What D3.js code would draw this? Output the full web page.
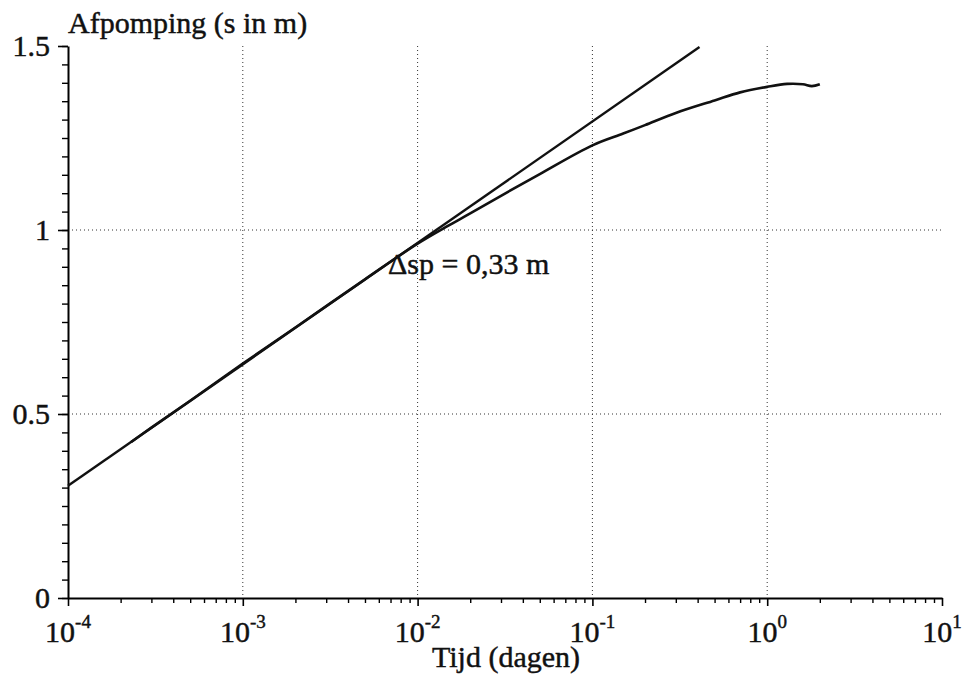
<!DOCTYPE html>
<html>
<head>
<meta charset="utf-8">
<script src="https://cdn.jsdelivr.net/npm/d3@7"></script>
<style>
  body { margin: 0; background: #fff; }
  text { font-family: "Liberation Serif", "Times New Roman", serif; fill: #111; stroke: #111; stroke-width: 0.45px; }
</style>
</head>
<body>
<div id="chart"></div>
<script>
// measured drawdown (time in days, drawdown in m)
const timeDays = [2.3e-4, 3e-4, 5e-4, 1e-3, 2e-3, 5e-3, 1e-2, 1.5e-2, 2e-2, 3e-2, 5e-2,
                  0.1, 0.15, 0.2, 0.3, 0.5, 0.7, 1.0, 1.3, 1.6, 1.8, 2.0];
const drawdown = [0.424, 0.463, 0.536, 0.637, 0.735, 0.866, 0.963, 1.012, 1.045, 1.093, 1.152,
                  1.230, 1.262, 1.285, 1.318, 1.352, 1.374, 1.389, 1.397, 1.396, 1.391, 1.396];

// fitted straight line (Jacob)
const fitTime = [1e-4, 0.41];
const fitDrawdown = [0.305, 1.497];

const xDecades = [-4, -3, -2, -1, 0, 1];
const yTicks = [0, 0.5, 1, 1.5];
const yTickLabels = ["0", "0.5", "1", "1.5"];
const annotation = "\u0394sp = 0,33 m";

const width = 962, height = 675;
const marginLeft = 68, plotRight = 942, plotTop = 46, plotBottom = 598;

const svg = d3.select("#chart").append("svg")
  .attr("width", width).attr("height", height);

const x = d3.scaleLog().domain([1e-4, 10]).range([marginLeft, plotRight]);
const y = d3.scaleLinear().domain([0, 1.5]).range([plotBottom, plotTop]);

// gridlines
const grid = svg.append("g")
  .attr("stroke", "#333").attr("stroke-width", 1).attr("stroke-dasharray", "1,3");
grid.selectAll("line.v")
  .data(xDecades.slice(1, -1))
  .join("line")
  .attr("x1", d => x(Math.pow(10, d))).attr("x2", d => x(Math.pow(10, d)))
  .attr("y1", plotTop).attr("y2", plotBottom);
grid.selectAll("line.h")
  .data([0.5, 1])
  .join("line")
  .attr("x1", marginLeft).attr("x2", plotRight)
  .attr("y1", d => y(d)).attr("y2", d => y(d));

// minor ticks
const minorX = [];
xDecades.slice(0, -1).forEach(e => {
  for (let k = 2; k <= 9; k++) minorX.push(k * Math.pow(10, e));
});
const minorY = d3.range(0, 31).map(i => i * 0.05);

svg.append("g")
  .attr("transform", `translate(0,${plotBottom})`)
  .call(d3.axisBottom(x).tickValues(minorX).tickSize(5).tickFormat("").tickSizeOuter(0))
  .call(g => g.select(".domain").remove())
  .selectAll("line").attr("stroke-width", 1.4);

svg.append("g")
  .attr("transform", `translate(${marginLeft},0)`)
  .call(d3.axisLeft(y).tickValues(minorY).tickSize(6).tickFormat("").tickSizeOuter(0))
  .call(g => g.select(".domain").remove())
  .selectAll("line").attr("stroke-width", 1.4);

// major axes
const xAxis = svg.append("g")
  .attr("transform", `translate(0,${plotBottom})`)
  .call(d3.axisBottom(x).tickValues(xDecades.map(e => Math.pow(10, e)))
    .tickSize(8).tickFormat("").tickSizeOuter(0));
xAxis.select(".domain").attr("stroke-width", 2);
xAxis.selectAll("line").attr("stroke-width", 1.6);

const yAxis = svg.append("g")
  .attr("transform", `translate(${marginLeft},0)`)
  .call(d3.axisLeft(y).tickValues(yTicks).tickSize(10).tickFormat("").tickSizeOuter(0));
yAxis.select(".domain").attr("stroke-width", 2);
yAxis.selectAll("line").attr("stroke-width", 1.6);

// x tick labels 10^n
const xl = svg.append("g").selectAll("text")
  .data(xDecades)
  .join("text")
  .attr("x", d => x(Math.pow(10, d)))
  .attr("y", 642)
  .attr("text-anchor", "middle")
  .style("font-size", "30px");
xl.append("tspan").text("10");
xl.append("tspan").attr("dy", -14).style("font-size", "19px").text(d => d < 0 ? "-" + (-d) : d);

// y tick labels
svg.append("g").selectAll("text")
  .data(yTicks)
  .join("text")
  .attr("x", 50)
  .attr("y", d => y(d) + 10)
  .attr("text-anchor", "end")
  .style("font-size", "30px")
  .text((d, i) => yTickLabels[i]);

// axis titles
svg.append("text").attr("x", 68).attr("y", 33)
  .style("font-size", "30px").text("Afpomping (s in m)");
svg.append("text").attr("x", 506).attr("y", 667).attr("text-anchor", "middle")
  .style("font-size", "30px").text("Tijd (dagen)");

// curves
const line = d3.line().x(d => x(d[0])).y(d => y(d[1]));

svg.append("path")
  .datum(fitTime.map((t, i) => [t, fitDrawdown[i]]))
  .attr("fill", "none").attr("stroke", "#111").attr("stroke-width", 2.4)
  .attr("d", line);

svg.append("path")
  .datum(timeDays.map((t, i) => [t, drawdown[i]]))
  .attr("fill", "none").attr("stroke", "#111").attr("stroke-width", 2.6)
  .attr("d", line.curve(d3.curveCatmullRom.alpha(0.5)));

svg.append("text").attr("x", 388).attr("y", 274)
  .style("font-size", "30px").text(annotation);
</script>
</body>
</html>
